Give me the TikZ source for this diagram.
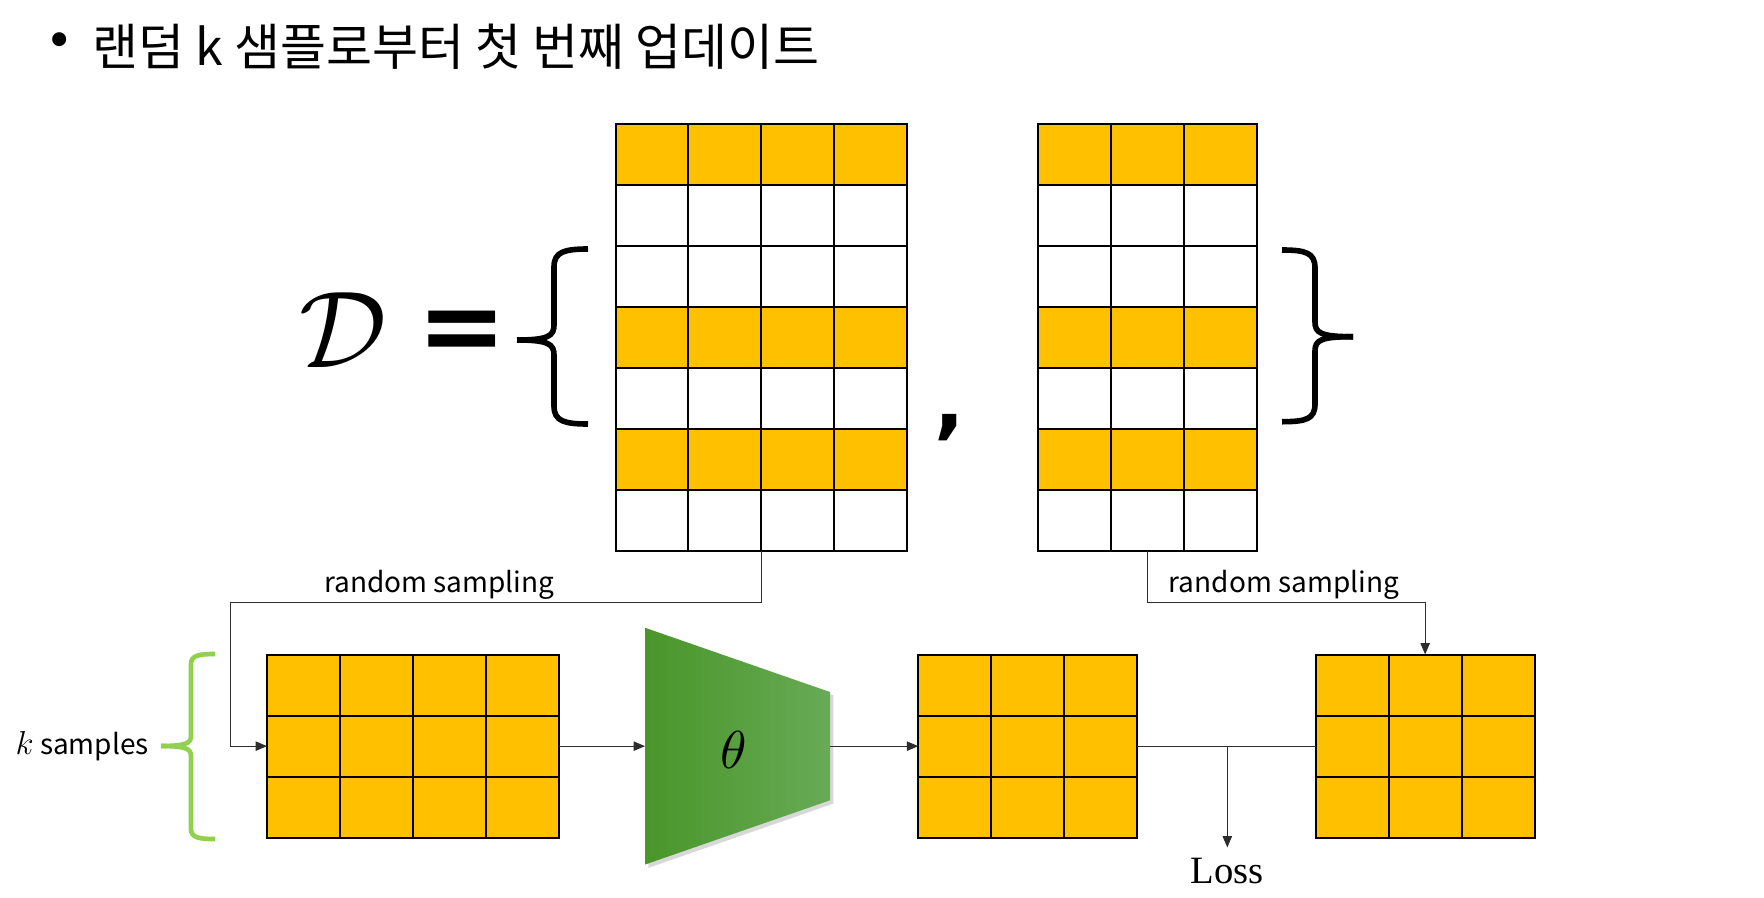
\documentclass[tikz,border=0pt]{standalone}
\usepackage{fontspec}
\newfontfamily\krfont{Noto Sans CJK KR}
\newfontfamily\symfont{DejaVu Sans}
\newfontfamily\serfont{Liberation Serif}
\usetikzlibrary{arrows.meta,shadows}

\definecolor{gold}{RGB}{255,192,0}
\definecolor{leaf}{RGB}{146,208,80}
\definecolor{netdark}{RGB}{73,150,42}
\definecolor{netlight}{RGB}{104,170,86}
\definecolor{wiregray}{RGB}{45,45,45}

\tikzset{
  cell/.style={draw=black,line width=1.5pt},
  setnode/.style={inner sep=0pt,outer sep=0pt},
  wire/.style={draw=wiregray,line width=0.75pt,-{Triangle[length=8.5pt,width=7pt]}},
  plainwire/.style={draw=wiregray,line width=0.75pt},
  bigbrace/.style={line width=4.2pt,line cap=butt},
  smalltext/.style={inner sep=0pt,font=\krfont\fontsize{21}{25}\selectfont}
}

\begin{document}
\begin{tikzpicture}[x=0.75pt,y=0.75pt,yscale=-1,xscale=1]
\useasboundingbox (0,0) rectangle (1764,897);
\fill[white] (0,0) rectangle (1764,897);

%Shape: Grid [first set, 4 columns]
\foreach \r/\f in {0/gold,1/white,2/white,3/gold,4/white,5/gold,6/white}
  \foreach \c in {0,...,3}
    \draw[cell,fill=\f] ({615.5+72.9*\c},{123.5+61.1*\r}) rectangle ++(72.9,61.1);
%Shape: Grid [second set, 3 columns]
\foreach \r/\f in {0/gold,1/white,2/white,3/gold,4/white,5/gold,6/white}
  \foreach \c in {0,...,2}
    \draw[cell,fill=\f] ({1038.4+72.9*\c},{123.5+61.1*\r}) rectangle ++(72.9,61.1);
%Shape: Grid [k samples]
\foreach \r in {0,...,2}
  \foreach \c in {0,...,3}
    \draw[cell,fill=gold] ({267+72.9*\c},{654.5+61.1*\r}) rectangle ++(72.9,61.1);
%Shape: Grid [prediction]
\foreach \r in {0,...,2}
  \foreach \c in {0,...,2}
    \draw[cell,fill=gold] ({918.3+72.9*\c},{654.5+61.1*\r}) rectangle ++(72.9,61.1);
%Shape: Grid [target]
\foreach \r in {0,...,2}
  \foreach \c in {0,...,2}
    \draw[cell,fill=gold] ({1315.8+72.9*\c},{654.5+61.1*\r}) rectangle ++(72.9,61.1);

% Grid frames (anchors)
\node[setnode,minimum width=218.7pt,minimum height=320.78pt] (set1) at (761.3,337.35) {};
\node[setnode,minimum width=164.03pt,minimum height=320.78pt] (set2) at (1147.75,337.35) {};
\node[setnode,minimum width=218.7pt,minimum height=137.48pt] (batch) at (412.8,746.15) {};
\node[setnode,minimum width=164.03pt,minimum height=137.48pt] (pred) at (1027.65,746.15) {};
\node[setnode,minimum width=164.03pt,minimum height=137.48pt] (target) at (1425.15,746.15) {};

%Shape: Trapezoid [model]
\shade[left color=netdark,right color=netlight,drop shadow={opacity=0.3,shadow xshift=2.5pt,shadow yshift=-2.5pt}]
  (645,627.75) -- (830,692) -- (830,800.3) -- (645,864.55) -- cycle;
\node[setnode,minimum width=138.75pt,minimum height=177.6pt] (net) at (737.5,746.15) {};

%Shape: Brace [left]
\draw[bigbrace] (588,249) .. controls (564,249) and (554,252) .. (554,267) -- (554,325) .. controls (554,336) and (548,340) .. (517,340);
\draw[bigbrace] (588,424) .. controls (564,424) and (554,421) .. (554,406) -- (554,355) .. controls (554,344) and (548,340) .. (517,340);
%Shape: Brace [right]
\draw[bigbrace] (1282,250) .. controls (1306,250) and (1315,253) .. (1315,268) -- (1315,322) .. controls (1315,333) and (1321,336.7) .. (1353,336.7);
\draw[bigbrace] (1282,421.7) .. controls (1306,421.7) and (1315,419) .. (1315,404) -- (1315,351) .. controls (1315,340) and (1321,336.7) .. (1353,336.7);
%Shape: Brace [k samples]
\draw[leaf,line width=3.5pt] (215,654) .. controls (200,654) and (191,655) .. (191,664) -- (191,736) .. controls (191,743) and (186,746) .. (161,746);
\draw[leaf,line width=3.5pt] (215,839) .. controls (200,839) and (191,838) .. (191,829) -- (191,756) .. controls (191,749) and (186,746) .. (161,746);

% Text Node
\node[inner sep=0pt] (bullet) at (60,45) {\symfont\fontsize{36}{42}\selectfont •};
% Text Node
\node[inner sep=0pt,anchor=west] (title) at (92,46.5) {\krfont\fontsize{37.5}{45}\selectfont 랜덤 k 샘플로부터 첫 번째 업데이트};
% Text Node
\node[inner sep=0pt] (dset) at (343,330.5) {\scalebox{8.2}{$\mathcal{D}$}};
% Text Node
\node[inner sep=0pt] (eq) at (462,336.7) {\symfont\bfseries\fontsize{80}{96}\selectfont =};
% Text Node
\node[inner sep=0pt] (comma) at (950,427.5) {\symfont\bfseries\fontsize{60}{72}\selectfont ,};
% Text Node
\node[inner sep=0pt] (theta) at (734,750) {\scalebox{4}{$\theta$}};
% Text Node
\node[smalltext] (lblA) at (439.4,585) {random sampling};
% Text Node
\node[smalltext] (lblB) at (1283.8,585) {random sampling};
% Text Node
\node[smalltext,anchor=east] (ksamp) at (149,746) {\scalebox{1.2}{$k$} samples};
% Text Node
\node[inner sep=0pt,outer sep=8pt,anchor=north] (loss) at (1227.3,847.5) {\serfont\fontsize{29}{34}\selectfont Loss};

%Straight Lines
\coordinate (feed) at (230.8,746.15);
\coordinate (split) at (1227.3,746.15);
\draw[wire] (set1.south) -- ++(0,51) -| (feed) -- (batch.west);
\draw[wire] (set2.south) -- ++(0,51) -| (target.north);
\draw[wire] (batch.east) -- (net.west);
\draw[wire] (net.east) -- (pred.west);
\draw[plainwire] (pred.east) -- (target.west);
\draw[wire] (split) -- (loss.north);

\end{tikzpicture}
\end{document}
